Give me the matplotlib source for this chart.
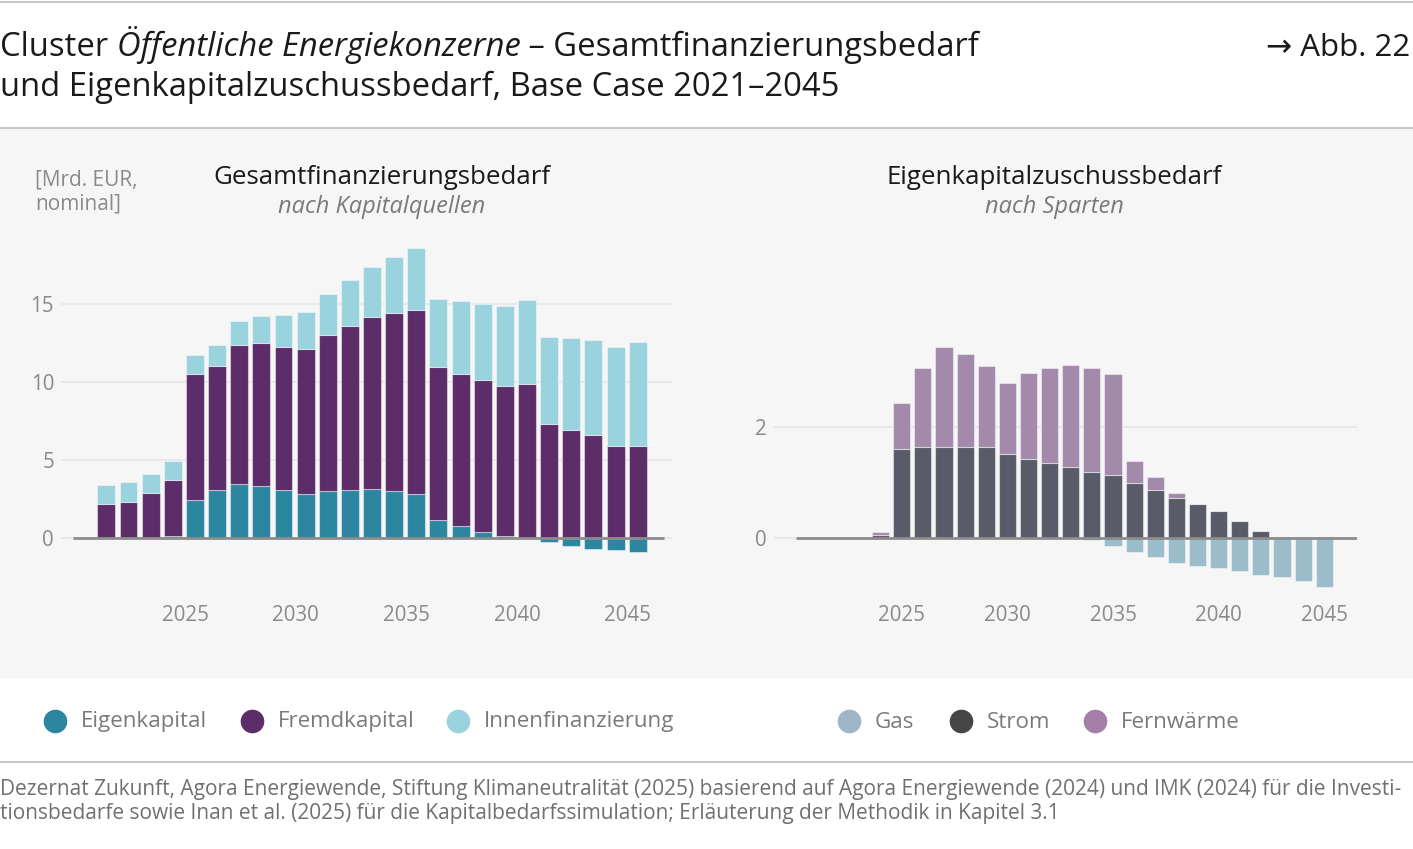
import matplotlib
matplotlib.use('Agg')
import numpy as np
import matplotlib.pyplot as plt
from matplotlib.lines import Line2D
from matplotlib.patches import Rectangle

plt.rcParams['font.family'] = ['Open Sans', 'DejaVu Sans']

W, H = 1413, 849

years = list(range(2021, 2046))

# Gesamtfinanzierungsbedarf nach Kapitalquellen [Mrd. EUR]
eigenkapital = [0, 0, 0, 0.13, 2.44, 3.06, 3.44, 3.33, 3.10, 2.82, 3.01, 3.10, 3.14,
                3.03, 2.82, 1.15, 0.77, 0.38, 0.13, 0.02, -0.26, -0.49, -0.68, -0.77, -0.88]
fremdkapital = [2.16, 2.33, 2.86, 3.61, 8.07, 7.97, 8.95, 9.15, 9.16, 9.27, 10.02, 10.51, 11.01,
                11.39, 11.77, 9.84, 9.76, 9.73, 9.61, 9.85, 7.31, 6.94, 6.58, 5.88, 5.90]
innenfinanzierung = [1.24, 1.24, 1.24, 1.22, 1.24, 1.36, 1.52, 1.75, 2.01, 2.38, 2.63, 2.93, 3.24,
                     3.59, 3.98, 4.33, 4.64, 4.91, 5.15, 5.39, 5.59, 5.86, 6.11, 6.34, 6.64]

# Eigenkapitalzuschussbedarf nach Sparten [Mrd. EUR]
gas = [0, 0, 0, 0, 0, 0, 0, 0, 0, 0, 0, 0, 0,
       -0.03, -0.14, -0.25, -0.35, -0.45, -0.50, -0.55, -0.60, -0.66, -0.71, -0.78, -0.88]
strom = [0, 0, 0, 0.05, 1.61, 1.65, 1.65, 1.65, 1.65, 1.52, 1.42, 1.36, 1.29,
         1.20, 1.14, 1.00, 0.87, 0.73, 0.61, 0.49, 0.31, 0.13, 0, 0, 0]
fernwaerme = [0, 0, 0, 0.06, 0.82, 1.42, 1.80, 1.67, 1.45, 1.28, 1.57, 1.72, 1.84,
              1.87, 1.83, 0.40, 0.23, 0.08, 0, 0, 0, 0, 0, 0, 0]

tick_years = [2025, 2030, 2035, 2040, 2045]

C_EIGEN, C_FREMD, C_INNEN = '#2d86a0', '#5c2d69', '#9ad3de'
C_GAS, C_STROM, C_FERN = '#9bbccb', '#5a5b69', '#a38aab'
GRAY_TXT = '#8a8a8a'
PANEL = '#f6f6f6'
DARK = '#1a1a1a'


def fx(px):
    return px / W


def fy(py):
    return 1 - py / H


fig = plt.figure(figsize=(W / 100, H / 100), dpi=100, facecolor='white')

# background panel + separator lines
fig.add_artist(Rectangle((0, fy(678)), 1, fy(129) - fy(678), transform=fig.transFigure,
                         facecolor=PANEL, edgecolor='none', zorder=0))
for ypx in [2, 128, 762]:
    fig.add_artist(Line2D([0, 1], [fy(ypx), fy(ypx)], transform=fig.transFigure,
                          color='#c8c8c8', lw=1.5))

# header (first line has an italic part, so it is put together piece by piece)
TSIZE = 23.6
fig.canvas.draw()
r = fig.canvas.get_renderer()
xpos = 0
for part, st in [('Cluster ', 'normal'), ('Öffentliche Energiekonzerne', 'italic'),
                 (' – Gesamtfinanzierungsbedarf', 'normal')]:
    t = fig.text(xpos, fy(56.5), part, fontsize=TSIZE, style=st, va='baseline', ha='left',
                 color=DARK)
    xpos = t.get_window_extent(r).x1 / W
fig.text(0, fy(96.5), 'und Eigenkapitalzuschussbedarf, Base Case 2021–2045', fontsize=TSIZE,
         va='baseline', ha='left', color=DARK)
fig.text(fx(1410), fy(56.5), '→ Abb. 22', fontsize=22.5, va='baseline', ha='right', color=DARK)

# panel titles
fig.text(fx(35), fy(192), '[Mrd. EUR,\nnominal]', fontsize=15, color=GRAY_TXT,
         va='center', ha='left', linespacing=1.15)
fig.text(fx(382), fy(178), 'Gesamtfinanzierungsbedarf', fontsize=18.6, color=DARK,
         va='center', ha='center')
fig.text(fx(382), fy(207), 'nach Kapitalquellen', fontsize=17, color='#7a7a7a',
         va='center', ha='center', style='italic')
fig.text(fx(1054), fy(178), 'Eigenkapitalzuschussbedarf', fontsize=18.6, color=DARK,
         va='center', ha='center')
fig.text(fx(1054), fy(207), 'nach Sparten', fontsize=17, color='#7a7a7a',
         va='center', ha='center', style='italic')

yrs = np.array(years)
XLIM = (2018.95, 2046.55)


def style_axis(ax, yticks, ylim, xtick_offset, baseline_from, baseline_to):
    ax.set_facecolor('none')
    for s in ax.spines.values():
        s.set_visible(False)
    ax.set_xlim(*XLIM)
    ax.set_ylim(*ylim)
    ax.set_yticks(yticks)
    ax.set_yticklabels([str(v) for v in yticks])
    ax.set_xticks(np.array(tick_years) + xtick_offset)
    ax.set_xticklabels([str(y) for y in tick_years])
    ax.tick_params(axis='both', length=0, colors=GRAY_TXT, labelsize=14.8)
    ax.tick_params(axis='y', pad=5)
    ax.tick_params(axis='x', pad=11)
    ax.grid(axis='y', color='#e9e9e9', lw=1.5, zorder=0)
    ax.grid(axis='x', visible=False)
    ax.hlines(0, baseline_from, baseline_to, color='#8c8c8c', lw=2, zorder=5)


bar_kw = dict(width=0.81, edgecolor=(1, 1, 1, 0.45), linewidth=0.8, zorder=3)

# left chart
ax1 = fig.add_axes([fx(61), fy(590), fx(672) - fx(61), fy(230) - fy(590)])
eig = np.array(eigenkapital)
fre = np.array(fremdkapital)
inn = np.array(innenfinanzierung)
b_fre = np.clip(eig, 0, None)
ax1.bar(yrs, eig, color=C_EIGEN, **bar_kw)
ax1.bar(yrs, fre, bottom=b_fre, color=C_FREMD, **bar_kw)
ax1.bar(yrs, inn, bottom=b_fre + fre, color=C_INNEN, **bar_kw)
style_axis(ax1, [0, 5, 10, 15], (-52 / 15.6, 308 / 15.6), -0.45, 2019.48, 2046.2)

# right chart
ax2 = fig.add_axes([fx(774), fy(590), fx(1357) - fx(774), fy(230) - fy(590)])
st = np.array(strom)
fw = np.array(fernwaerme)
ax2.bar(yrs, np.array(gas), color=C_GAS, **bar_kw)
ax2.bar(yrs, st, color=C_STROM, **bar_kw)
ax2.bar(yrs, fw, bottom=st, color=C_FERN, **bar_kw)
style_axis(ax2, [0, 2], (-52 / 55.35, 308 / 55.35), 0.0, 2020.0, 2046.55)

# legends
legend_left = [('Eigenkapital', '#2d86a0', 55), ('Fremdkapital', '#5c2d69', 252),
               ('Innenfinanzierung', '#9ad3de', 458)]
legend_right = [('Gas', '#a0b5c8', 849), ('Strom', '#474545', 961), ('Fernwärme', '#a47fa8', 1095)]
for name, col, xpx in legend_left + legend_right:
    fig.add_artist(Line2D([fx(xpx)], [fy(721)], transform=fig.transFigure, marker='o',
                          ms=16, color=col, ls=''))
    fig.text(fx(xpx + 26), fy(722), name, fontsize=16.1, color='#7a7a7a', va='center',
             ha='left')

# source
src1 = ('Dezernat Zukunft, Agora Energiewende, Stiftung Klimaneutralität (2025) basierend auf '
        'Agora Energiewende (2024) und IMK (2024) für die Investi-')
src2 = ('tionsbedarfe sowie Inan et al. (2025) für die Kapitalbedarfssimulation; '
        'Erläuterung der Methodik in Kapitel 3.1')
fig.text(0, fy(789), src1, fontsize=15, color='#707070', va='center', ha='left')
fig.text(0, fy(814), src2, fontsize=15, color='#707070', va='center', ha='left')

fig.savefig('out.png', dpi=100, facecolor='white')
